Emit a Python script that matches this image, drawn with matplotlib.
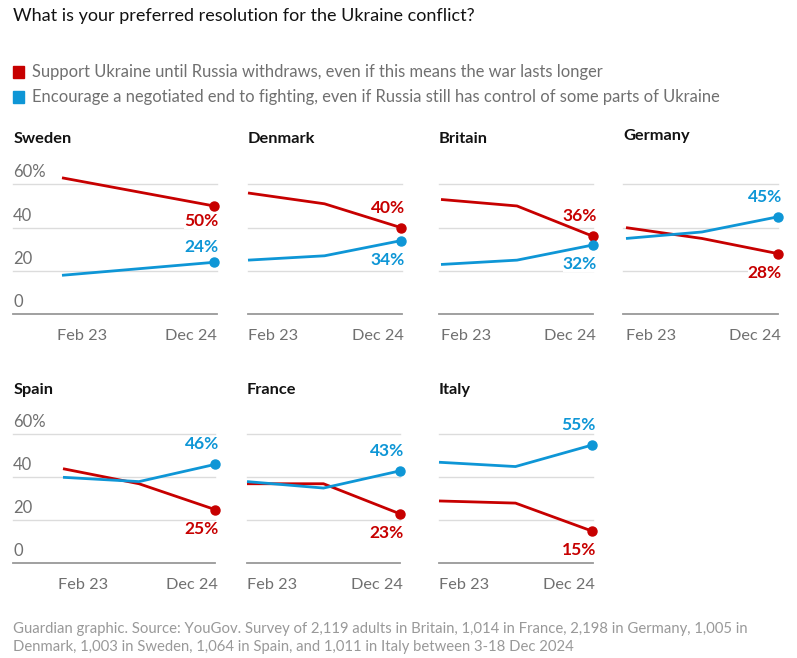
import matplotlib
matplotlib.use("Agg")
import matplotlib.pyplot as plt
import numpy as np

plt.rcParams['font.family'] = ['Lato', 'DejaVu Sans']

# ---- data ----
countries = ["Sweden", "Denmark", "Britain", "Germany", "Spain", "France", "Italy"]
months = [0, 11, 22]            # Feb 23, ~Jan 24, Dec 24 (months since Feb 23)
x_tick_labels = ["Feb 23", "Dec 24"]
support_ukraine = {
    "Sweden":  [63, None, 50],
    "Denmark": [56, 51, 40],
    "Britain": [53, 50, 36],
    "Germany": [40, 35, 28],
    "Spain":   [44, 37, 25],
    "France":  [37, 37, 23],
    "Italy":   [29, 28, 15],
}
negotiate = {
    "Sweden":  [18, None, 24],
    "Denmark": [25, 27, 34],
    "Britain": [23, 25, 32],
    "Germany": [35, 38, 45],
    "Spain":   [40, 38, 46],
    "France":  [38, 35, 43],
    "Italy":   [47, 45, 55],
}
y_ticks = [0, 20, 40, 60]
y_tick_labels = ["0", "20", "40", "60%"]
series_names = ["Support Ukraine until Russia withdraws, even if this means the war lasts longer",
                "Encourage a negotiated end to fighting, even if Russia still has control of some parts of Ukraine"]

# ---- style ----
RED = "#c70000"
BLUE = "#0e96d6"
GRID = "#dcdcdc"
BASE = "#999999"
TICK = "#707070"
W, H = 797, 658

# label placement (+1 above point, -1 below point) for (red, blue)
label_side = {
    "Sweden": (-1, 1), "Denmark": (1, -1), "Britain": (1, -1), "Germany": (-1, 1),
    "Spain": (-1, 1), "France": (-1, 1), "Italy": (-1, 1),
}
label_gap = {"Sweden": 15}

fig = plt.figure(figsize=(W / 100, H / 100), dpi=100)

def px_axes(x0, x1, ytop, ybot):
    return fig.add_axes([x0 / W, 1 - ybot / H, (x1 - x0) / W, (ybot - ytop) / H])

# title & legend
fig.text(13 / W, 1 - 16 / H, "What is your preferred resolution for the Ukraine conflict?",
         fontsize=13.0, color="#121212", va="center", ha="left")
for i, (name, col) in enumerate(zip(series_names, [RED, BLUE])):
    yc = 72 + i * 25
    fig.patches.append(plt.Rectangle((13 / W, 1 - (yc + 5.5) / H), 11 / W, 11 / H,
                                     transform=fig.transFigure, color=col))
    fig.text(32 / W, 1 - yc / H, name, fontsize=11.9, color=TICK, va="center", ha="left")

# panel geometry: (grid x0, grid x1, data x0, data x1, y of 60, y of 0, title y)
panels = {
    "Sweden":  (13, 217, 62, 214, 184.3, 314.3, 139),
    "Denmark": (248, 402, 248, 401, 184.3, 314.3, 139),
    "Britain": (439, 593, 441, 593, 184.3, 314.3, 139),
    "Germany": (623, 778, 626, 778, 184.3, 314.3, 136),
    "Spain":   (13, 215, 63, 215, 434.3, 563.3, 390),
    "France":  (247, 400, 247, 400, 434.3, 563.3, 390),
    "Italy":   (439, 593, 439, 592, 434.3, 563.3, 390),
}

for c in countries:
    gx0, gx1, dx0, dx1, ytop, ybot, ty = panels[c]
    ax = px_axes(gx0, gx1, ytop, ybot)
    span = months[-1] - months[0]
    scale = span / (dx1 - dx0)
    ax.set_xlim(months[0] - (dx0 - gx0) * scale, months[-1] + (gx1 - dx1) * scale)
    ax.set_ylim(0, 60)
    ax.axis("off")
    for yv in y_ticks:
        if yv == 0:
            ax.axhline(yv, color=BASE, lw=1.3, zorder=1, clip_on=False)
        else:
            ax.axhline(yv, color=GRID, lw=1.0, zorder=1, clip_on=False)
    if c in ("Sweden", "Spain"):
        for yv, lab in zip(y_ticks, y_tick_labels):
            ax.annotate(lab, xy=(0, yv), xycoords=("axes fraction", "data"),
                        xytext=(0, 4), textcoords="offset pixels",
                        ha="left", va="bottom", fontsize=12, color=TICK)
    fig.text(gx0 / W if c not in ("Sweden", "Spain") else 14 / W, 1 - ty / H, c,
             fontsize=11.8, fontweight="bold", color="#121212", va="center", ha="left")
    # x tick labels
    ax.annotate(x_tick_labels[0], xy=(months[0], 0), xytext=(-5 if c in ("Sweden", "Spain") else 0, -22),
                textcoords="offset pixels", ha="left", va="center", fontsize=11.7, color=TICK)
    ax.annotate(x_tick_labels[1], xy=(months[-1], 0), xytext=(3, -22),
                textcoords="offset pixels", ha="right", va="center", fontsize=11.7, color=TICK)
    for vals, col, side in [(support_ukraine[c], RED, label_side[c][0]),
                            (negotiate[c], BLUE, label_side[c][1])]:
        xs = [m for m, v in zip(months, vals) if v is not None]
        ys = [v for v in vals if v is not None]
        ax.plot(xs, ys, color=col, lw=2.0, zorder=4, clip_on=False, solid_capstyle="butt")
        ax.plot(xs[-1:], ys[-1:], "o", color=col, ms=6.5, zorder=5, clip_on=False)
        gap = label_gap.get(c, 20 if side > 0 else 19)
        ax.annotate(f"{ys[-1]}%", xy=(xs[-1], ys[-1]), xytext=(4, gap * side),
                    textcoords="offset pixels", ha="right", va="center",
                    fontsize=12.5, fontweight="bold", color=col, zorder=3,
                    bbox=dict(boxstyle="square,pad=0.0", fc="white", ec="none"))

fig.text(13 / W, 1 - 629 / H,
         "Guardian graphic. Source: YouGov. Survey of 2,119 adults in Britain, 1,014 in France, 2,198 in Germany, 1,005 in",
         fontsize=10.7, color="#999999", va="center", ha="left")
fig.text(13 / W, 1 - 647 / H,
         "Denmark, 1,003 in Sweden, 1,064 in Spain, and 1,011 in Italy between 3-18 Dec 2024",
         fontsize=10.7, color="#999999", va="center", ha="left")

fig.savefig("out.png", dpi=100, facecolor="white")
